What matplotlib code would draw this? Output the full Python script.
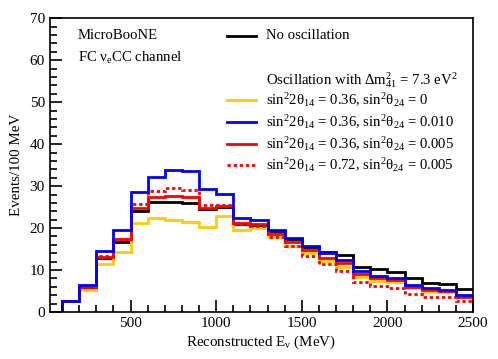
import numpy as np
import matplotlib
matplotlib.use("Agg")
import matplotlib.pyplot as plt
from matplotlib.lines import Line2D

plt.rcParams['font.family'] = 'Liberation Serif'
plt.rcParams['mathtext.fontset'] = 'custom'
plt.rcParams['mathtext.rm'] = 'Liberation Serif'
plt.rcParams['mathtext.it'] = 'Liberation Serif:italic'
plt.rcParams['mathtext.default'] = 'rm'

# bin edges in MeV, 100 MeV bins
edges = np.arange(0, 2600, 100)

no_osc = [0, 2.5, 5.7, 12.9, 16.6, 24.0, 26.1, 26.3, 26.0, 24.5, 25.1, 20.9, 20.7,
          19.4, 17.5, 15.6, 14.4, 13.6, 10.8, 10.2, 9.6, 8.0, 7.0, 6.6, 5.5]
osc_036_0 = [0, 2.5, 5.2, 11.4, 14.2, 21.1, 22.5, 21.9, 21.5, 20.3, 22.8, 19.6, 20.0,
             17.8, 15.8, 14.0, 12.1, 10.8, 8.4, 7.4, 7.1, 5.6, 4.8, 4.7, 3.5]
osc_036_0010 = [0, 2.5, 6.4, 14.5, 19.5, 28.6, 32.1, 33.8, 33.6, 29.3, 28.2, 22.4, 21.9,
                19.5, 17.7, 15.7, 14.0, 12.4, 9.8, 8.6, 8.2, 6.4, 5.6, 5.2, 4.0]
osc_036_0005 = [0, 2.5, 5.9, 13.2, 17.3, 24.8, 27.5, 27.7, 27.5, 24.8, 25.3, 21.2, 21.0,
                18.7, 16.7, 14.8, 12.9, 11.6, 9.0, 8.0, 7.6, 6.0, 5.2, 5.0, 3.6]
osc_072_0005 = [0, 2.5, 6.0, 13.3, 17.5, 25.7, 28.9, 29.5, 29.0, 25.6, 25.6, 20.9, 20.4,
                17.9, 15.8, 13.3, 11.4, 9.8, 7.2, 6.2, 5.8, 4.2, 3.6, 3.6, 2.5]

labels = [
    "No oscillation",
    r"sin$^{2}$2$\theta_{14}$ = 0.36, sin$^{2}\theta_{24}$ = 0",
    r"sin$^{2}$2$\theta_{14}$ = 0.36, sin$^{2}\theta_{24}$ = 0.010",
    r"sin$^{2}$2$\theta_{14}$ = 0.36, sin$^{2}\theta_{24}$ = 0.005",
    r"sin$^{2}$2$\theta_{14}$ = 0.72, sin$^{2}\theta_{24}$ = 0.005",
]
header = r"Oscillation with $\Delta$m$^{2}_{41}$ = 7.3 eV$^{2}$"

gold = '#ffcc00'
styles = [
    dict(color='black', ls='-'),
    dict(color=gold, ls='-'),
    dict(color='#0000ff', ls='-'),
    dict(color='#ff0000', ls='-'),
    dict(color='#ff0000', ls=(0, (1.2, 1.0))),
]
series = [no_osc, osc_036_0, osc_036_0010, osc_036_0005, osc_072_0005]

fig = plt.figure(figsize=(4.98, 3.59), dpi=100)
ax = fig.add_axes([0.0998, 0.131, 0.850, 0.818])

# draw order: black, yellow, red, dotted, blue
for k in [0, 1, 3, 4, 2]:
    ax.stairs(series[k], edges, baseline=None, color=styles[k]['color'],
              linestyle=styles[k]['ls'], lw=2)

ax.set_xlim(28, 2500)
ax.set_ylim(0, 70)
ax.set_xticks([500, 1000, 1500, 2000, 2500])
ax.set_xticks(np.arange(100, 2500, 100), minor=True)
ax.set_yticks(np.arange(0, 71, 10))
ax.set_yticks(np.arange(0, 71, 2), minor=True)
ax.tick_params(which='both', direction='in', labelsize=11, width=1.2,
               top=False, right=False)
ax.tick_params(which='major', length=8.5)
ax.tick_params(which='minor', length=5)
for s in ax.spines.values():
    s.set_linewidth(1.2)

ax.set_xlabel(r"Reconstructed E$_{\nu}$ (MeV)", fontsize=10.8, labelpad=3)
ax.set_ylabel("Events/100 MeV", fontsize=10.8, labelpad=5)

fs = 10.6
# text labels
ax.text(0.067, 0.94, "MicroBooNE", transform=ax.transAxes, fontsize=fs, va='center')
ax.text(0.067, 0.865, r"FC $\nu_{e}$CC channel", transform=ax.transAxes, fontsize=fs, va='center')

# legend, drawn by hand
x0, x1, xt = 0.419, 0.487, 0.511
rows = [0.94, 0.722, 0.647, 0.572, 0.500]
for k in range(5):
    ax.add_line(Line2D([x0, x1], [rows[k], rows[k]], transform=ax.transAxes,
                       color=styles[k]['color'], linestyle=styles[k]['ls'], lw=2))
    ax.text(xt, rows[k], labels[k], transform=ax.transAxes, fontsize=fs, va='center')
ax.text(xt, 0.79, header, transform=ax.transAxes, fontsize=fs, va='center')

fig.savefig("out.png", dpi=100)
